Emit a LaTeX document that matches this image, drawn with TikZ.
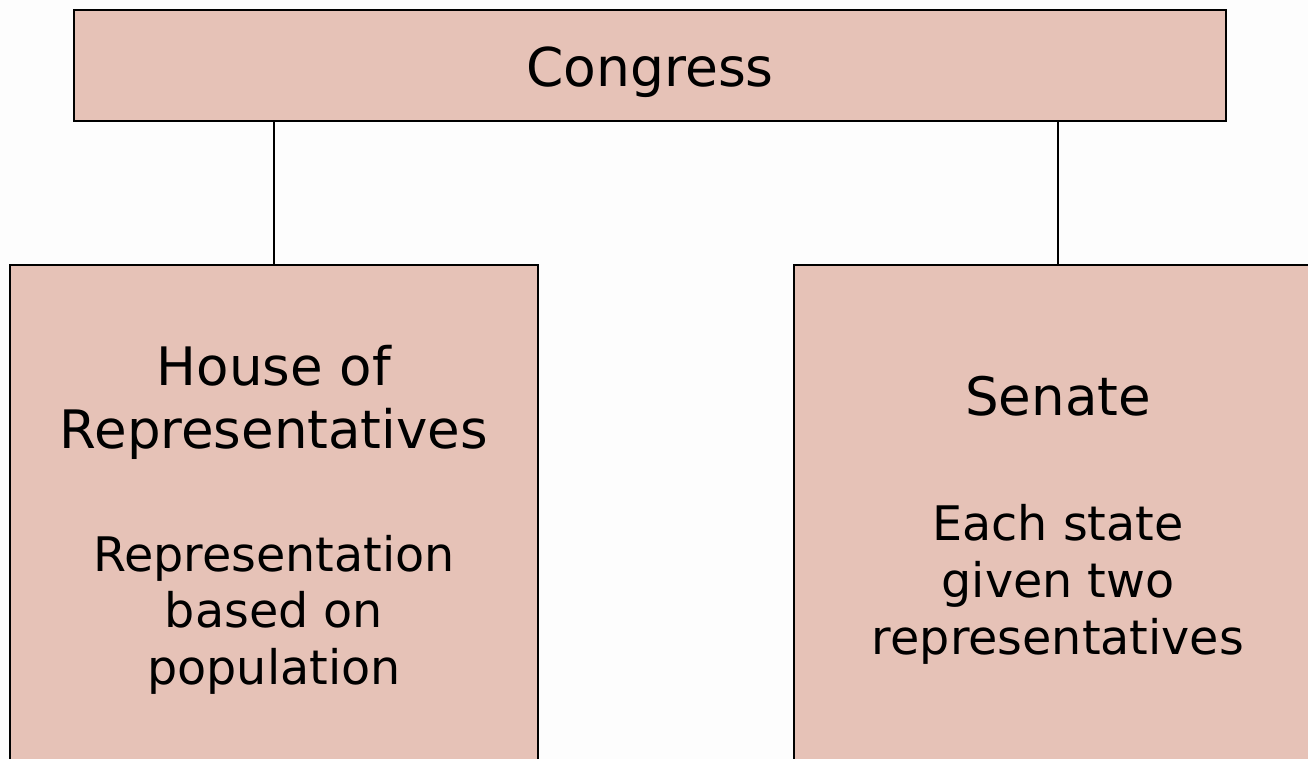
\documentclass[tikz,border=0pt]{standalone}
\usepackage{fontspec}
\setmainfont{DejaVu Sans}
\definecolor{boxfill}{HTML}{E6C2B7}
\definecolor{paper}{HTML}{FDFDFD}
\tikzset{
  panel/.style={draw=black, line width=2pt, fill=boxfill, inner sep=0pt, outer sep=0pt},
  link/.style={draw=black, line width=2pt},
  title/.style={font=\fontsize{53}{63}\selectfont, anchor=base, inner sep=0pt},
  body/.style={font=\fontsize{47.6}{57}\selectfont, anchor=base, inner sep=0pt}
}
\begin{document}
\begin{tikzpicture}[x=1pt, y=-1pt]
  \useasboundingbox (0,0) rectangle (1308,759);
  \fill[paper] (0,0) rectangle (1308,759);
  \clip (0,0) rectangle (1308,759);

  % boxes
  \node[panel, minimum width=1152pt, minimum height=111pt, anchor=north west] (congress) at (74,10) {};
  \node[panel, minimum width=528pt, minimum height=560pt, anchor=north west] (house) at (10,265) {};
  \node[panel, minimum width=528pt, minimum height=560pt, anchor=north west] (senate) at (794,265) {};

  % connectors
  \coordinate (hc) at (274,265);
  \coordinate (sc) at (1058,265);
  \draw[link] (hc |- congress.south) -- (hc);
  \draw[link] (sc |- congress.south) -- (sc);

  % labels
  \node[title, font=\fontsize{53.5}{63}\selectfont] (congresslbl) at (650,87) {Congress};

  \node[title] (h1) at (274,385) {House of};
  \node[title] (h2) at (274,448) {Representatives};
  \node[body] (h3) at (274,571) {Representation};
  \node[body] (h4) at (274,627) {based on};
  \node[body] (h5) at (274,684) {population};

  \node[title] (s1) at (1058,415) {Senate};
  \node[body] (s2) at (1058,540) {Each state};
  \node[body] (s3) at (1058,597) {given two};
  \node[body] (s4) at (1058,654) {representatives};
\end{tikzpicture}
\end{document}
